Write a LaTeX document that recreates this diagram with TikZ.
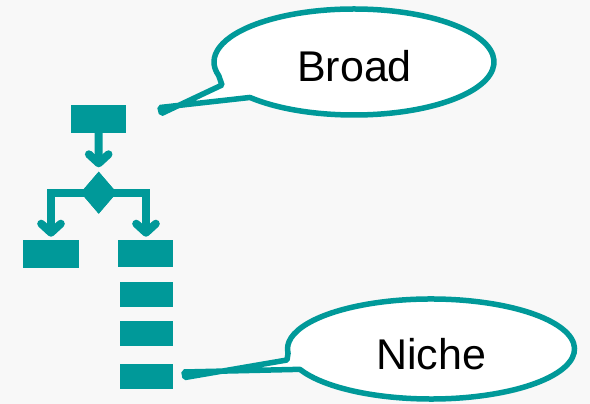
\documentclass[tikz,border=0pt]{standalone}
\usepackage{fontspec}
\setmainfont{Liberation Sans}
\usetikzlibrary{calc,shapes.geometric}
\definecolor{flowteal}{HTML}{009999}
\definecolor{paper}{HTML}{F8F8F8}
\begin{document}
\begin{tikzpicture}[x=1pt,y=1pt,
  box/.style={rectangle, fill=flowteal, draw=none, inner sep=0pt, outer sep=0pt},
  decision/.style={diamond, fill=flowteal, draw=none, inner sep=0pt, outer sep=0pt,
                   minimum width=36pt, minimum height=42pt},
  flow/.style={draw=flowteal, line width=8pt, line join=miter},
  head/.style={draw=flowteal, line width=8pt, line cap=round, line join=round},
  bubble/.style={draw=flowteal, fill=white, line width=5.5pt, line join=bevel},
  word/.style={font=\fontsize{43}{50}\selectfont, inner sep=0pt, anchor=base}]

% page
\fill[paper] (0,0) rectangle (590,404);
\useasboundingbox (0,0) rectangle (590,404);

% flowchart blocks
\node[box, minimum width=55pt, minimum height=28pt] (start) at (98.5,285) {};
\node[decision] (dec) at (98.7,211.3) {};
\node[box, minimum width=56pt, minimum height=27.5pt] (left) at (50.7,150.2) {};
\node[box, minimum width=55pt, minimum height=27pt] (right) at (145.5,150.5) {};
\node[box, minimum width=52.7pt, minimum height=24.5pt] (s1) at (146.3,109.5) {};
\node[box, minimum width=52.7pt, minimum height=24.5pt] (s2) at (146.3,70.7) {};
\node[box, minimum width=52.7pt, minimum height=24.5pt] (s3) at (146.3,27.7) {};

% arrow tips
\coordinate (tipA) at (98.7,240.7);
\coordinate (tipL) at (51,171.3);
\coordinate (tipR) at (146,171.3);

% start -> decision
\draw[flow] (start.south) -- (tipA);
\draw[head] ($(tipA)+(-9.8,9)$) -- (tipA) -- ($(tipA)+(9.8,9)$);

% decision -> two branches
\draw[flow] (tipL) -- (tipL |- dec) -- (tipR |- dec) -- (tipR);
\node[decision] at (dec) {};
\draw[head] ($(tipL)+(-9.8,9)$) -- (tipL) -- ($(tipL)+(9.8,9)$);
\draw[head] ($(tipR)+(-9.8,9)$) -- (tipR) -- ($(tipR)+(9.8,9)$);

% callout "Broad": the two tail edges cross just before the blunt end
\coordinate (bc) at (354,342);
\coordinate (bcorner) at (222,319);
\coordinate (btipU) at (161.5,290.5);
\coordinate (btipL) at (160,296.5);
\draw[bubble] ($(bc)+(222:140 and 53)$)
  arc[start angle=222, end angle=555, x radius=140, y radius=53]
  -- (bcorner) -- (btipU) -- (btipL) -- cycle;
\node[word] (broad) at (354.5,322.3) {Broad};

% callout "Niche"
\coordinate (nc) at (431,55);
\coordinate (ncorner) at (287,44);
\coordinate (ntipU) at (185,26.5);
\coordinate (ntipL) at (184,32);
\draw[bubble] ($(nc)+(204:143.5 and 50)$)
  arc[start angle=204, end angle=545, x radius=143.5, y radius=50]
  -- (ncorner) -- (ntipU) -- (ntipL) -- cycle;
\node[word] (niche) at (431,34) {Niche};
\end{tikzpicture}
\end{document}
